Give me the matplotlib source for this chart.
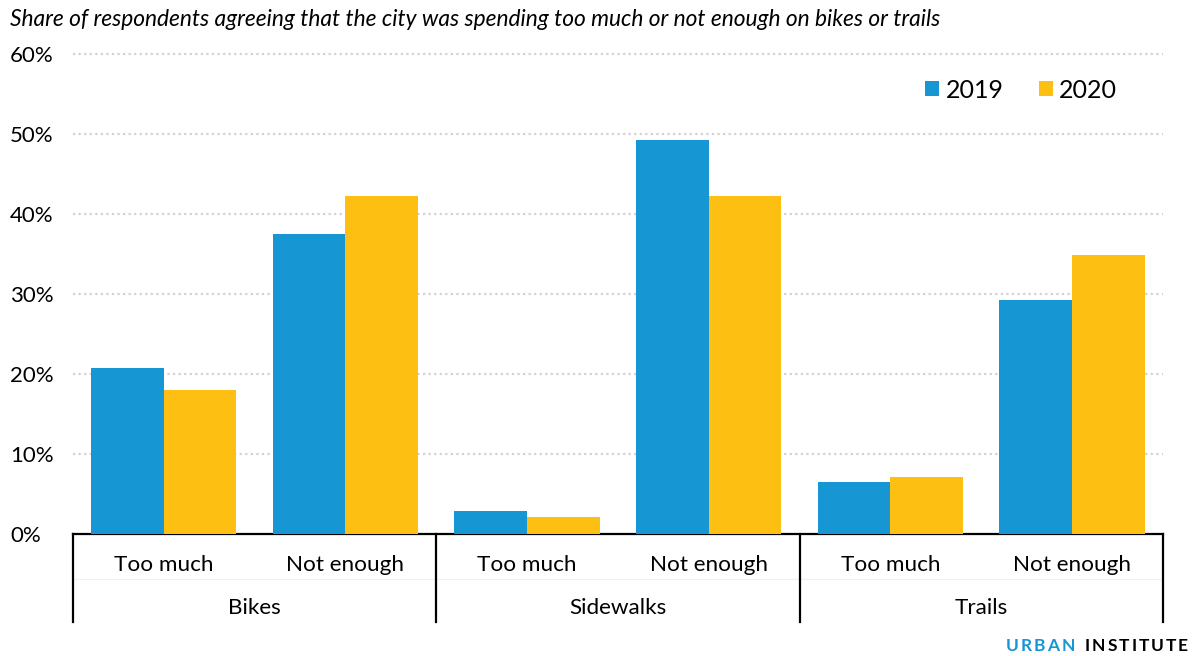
import matplotlib
matplotlib.use('Agg')
import matplotlib.pyplot as plt
import matplotlib.transforms as mtransforms
import numpy as np

plt.rcParams['font.family'] = ['Lato', 'DejaVu Sans']

# data
groups = ['Bikes', 'Sidewalks', 'Trails']
answers = ['Too much', 'Not enough']
years = ['2019', '2020']
share_2019 = [20.7, 37.5, 2.9, 49.3, 6.5, 29.3]
share_2020 = [18.0, 42.2, 2.1, 42.2, 7.1, 34.9]
yticks = [0, 10, 20, 30, 40, 50, 60]

blue = '#1696d2'
yellow = '#fdbf11'
W, H = 1197, 656

fig = plt.figure(figsize=(W / 100, H / 100), dpi=100)
ax = fig.add_axes([73 / W, 1 - 534 / H, 1090 / W, 480 / H])

x = np.arange(len(groups) * len(answers))
w = 0.4
ax.bar(x - w / 2, share_2019, width=w, color=blue, label=years[0], zorder=3)
ax.bar(x + w / 2, share_2020, width=w, color=yellow, label=years[1], zorder=3)

ax.set_xlim(-0.5, len(x) - 0.5)
ax.set_ylim(0, 60)
ax.set_yticks(yticks)
ax.set_yticklabels([f'{t}%' for t in yticks], fontsize=16, color='#000000')
for lab in ax.get_yticklabels():
    lab.set_horizontalalignment('left')
ax.tick_params(axis='y', length=0, pad=45.4)
ax.set_xticks([])

for t in yticks[1:]:
    ax.axhline(t, color='#d2d2d2', lw=1.6, ls=(0, (1, 1.5)), zorder=1, clip_on=False)

for s in ['top', 'right', 'left']:
    ax.spines[s].set_visible(False)
ax.spines['bottom'].set_color('#000000')
ax.spines['bottom'].set_linewidth(1.6)

# two-level category axis
trans = mtransforms.blended_transform_factory(ax.transData, ax.transAxes)
bottom = -(622 - 534) / 480
for sep in np.arange(-0.5, len(x), 2):
    ax.plot([sep, sep], [0, bottom], color='#000000', lw=1.6, transform=trans, clip_on=False)
ax.plot([-0.5, len(x) - 0.5], [-(579 - 534) / 480] * 2, color='#f0f0f0', lw=0.8,
        transform=trans, clip_on=False, zorder=0)

for i in x:
    ax.text(i, -(565 - 534) / 480, answers[i % 2], transform=trans, ha='center', va='center',
            fontsize=16.2)
for g, name in enumerate(groups):
    ax.text(2 * g + 0.5, -(608 - 534) / 480, name, transform=trans, ha='center', va='center',
            fontsize=16.2)

ax.legend(loc='center right', bbox_to_anchor=((1117 - 73) / 1090, (534 - 90) / 480), ncol=2,
          frameon=False, fontsize=18, handlelength=0.56, handleheight=0.56, handletextpad=0.25,
          columnspacing=1.4, borderaxespad=0, borderpad=0)

fig.text(10 / W, 1 - 20 / H, 'Share of respondents agreeing that the city was spending too much or not enough on bikes or trails',
         fontsize=16.35, style='italic', ha='left', va='center')

# letter-spaced branding, placed right to left
fig.canvas.draw()
r = fig.canvas.get_renderer()
xr = 1188
for word, col in [('INSTITUTE', '#000000'), ('URBAN', blue)]:
    for ch in reversed(word):
        t = fig.text(xr / W, 1 - 646 / H, ch, fontsize=12.5, fontweight='bold',
                     ha='right', va='center', color=col)
        xr = t.get_window_extent(r).x0 - 2.0
    xr -= 8
fig.savefig('out.png', dpi=100)
